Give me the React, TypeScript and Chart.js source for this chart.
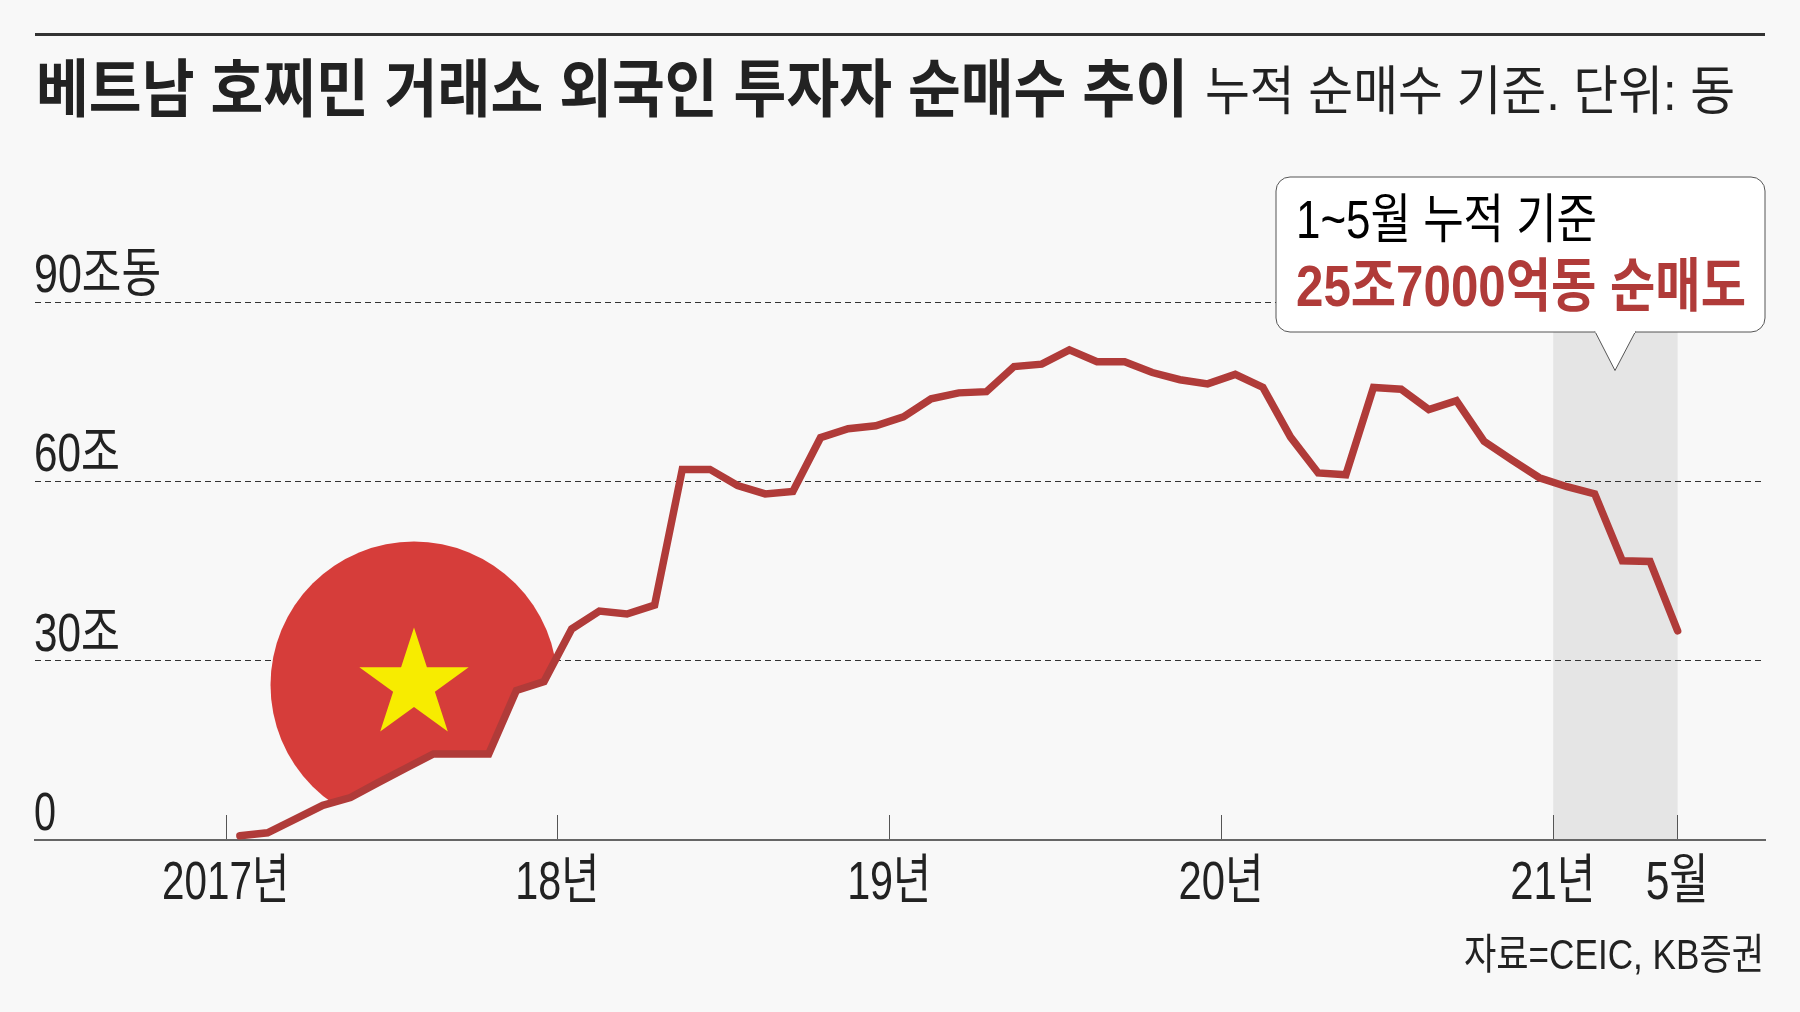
import React, { useEffect, useRef } from "react";
import { Chart, registerables } from "chart.js";

Chart.register(...registerables);

// Cumulative net buying by foreign investors, trillion dong, one value per month
const values2017 = [0.7, 1.2, 3.5, 5.8, 7.1, 9.6, 12.0, 14.4, 14.4, 14.4, 25.0, 26.5];
const values2018 = [35.3, 38.3, 37.8, 39.3, 62.0, 62.0, 59.3, 57.9, 58.3, 67.3, 68.8, 69.3];
const values2019 = [70.8, 73.8, 74.8, 75.0, 79.2, 79.6, 82.0, 80.0, 80.0, 78.2, 77.0, 76.3];
const values2020 = [77.9, 75.7, 67.4, 61.4, 61.1, 75.7, 75.4, 72.0, 73.5, 66.7, 63.6, 60.6];
const values2021 = [59.1, 57.9, 46.7, 46.6, 35.0];
const netBuying = [...values2017, ...values2018, ...values2019, ...values2020, ...values2021];

// x is the month index from Jan 2017; year ticks sit on the month boundaries
const xTickValues = [-0.5, 11.5, 23.5, 35.5, 47.5, 52];
const xTickLabels = ["2017년", "18년", "19년", "20년", "21년", "5월"];
const xTickWidths = [127, 84, 84, 85, 85, 63];
const yTickValues = [0, 30, 60, 90];
const yTickLabels = ["0", "30조", "60조", "90조동"];
const yTickWidths = [22, 86, 86, 127];
const bandRange = [47.5, 52];

const titleText = "베트남 호찌민 거래소 외국인 투자자 순매수 추이";
const subtitleText = "누적 순매수 기준. 단위: 동";
const sourceText = "자료=CEIC, KB증권";
const calloutLine1 = "1~5월 누적 기준";
const calloutLine2 = "25조7000억동 순매도";

const FONT = '"Liberation Sans", "Noto Sans CJK KR", sans-serif';
const INK = "#222222";
const LINE_RED = "#b03b39";

function drawText(
  ctx: CanvasRenderingContext2D,
  text: string,
  x: number,
  y: number,
  font: string,
  color: string,
  width: number,
  align: CanvasTextAlign = "left"
) {
  ctx.font = font;
  ctx.fillStyle = color;
  ctx.textAlign = align;
  ctx.textBaseline = "alphabetic";
  ctx.fillText(text, x, y, width);
}

const decorPlugin = {
  id: "decor",
  beforeDraw(chart: any) {
    const { ctx, scales } = chart;
    // grey band behind the grid for 2021
    const x0 = scales.x.getPixelForValue(bandRange[0]);
    const x1 = scales.x.getPixelForValue(bandRange[1]);
    ctx.save();
    ctx.fillStyle = "#e5e5e5";
    ctx.fillRect(x0, chart.chartArea.top, x1 - x0, chart.chartArea.height);
    ctx.restore();
  },
  beforeDatasetsDraw(chart: any) {
    const { ctx } = chart;
    const pts = chart.getDatasetMeta(0).data;
    const cx = 414;
    const cy = 685;

    // flag circle, cut off by the line
    ctx.save();
    ctx.beginPath();
    ctx.moveTo(0, pts[0].y);
    pts.slice(0, 17).forEach((p: any) => ctx.lineTo(p.x, p.y));
    ctx.lineTo(pts[16].x, 0);
    ctx.lineTo(0, 0);
    ctx.closePath();
    ctx.clip();
    ctx.fillStyle = "#d63d3a";
    ctx.beginPath();
    ctx.arc(cx, cy, 143.5, 0, Math.PI * 2);
    ctx.fill();
    ctx.restore();

    // star
    ctx.save();
    ctx.fillStyle = "#f7ec00";
    ctx.beginPath();
    for (let i = 0; i < 10; i++) {
      const r = i % 2 === 0 ? 57.5 : 57.5 * 0.382;
      const a = -Math.PI / 2 + (i * Math.PI) / 5;
      ctx.lineTo(cx + r * Math.cos(a), cy + r * Math.sin(a));
    }
    ctx.closePath();
    ctx.fill();
    ctx.restore();
  },
  afterDraw(chart: any) {
    const { ctx, scales } = chart;
    ctx.save();

    // rule on top
    ctx.fillStyle = "#333333";
    ctx.fillRect(35, 33, 1730, 3);

    drawText(ctx, titleText, 36, 111, `bold 63px ${FONT}`, INK, 1152);
    drawText(ctx, subtitleText, 1205, 110, `53px ${FONT}`, INK, 530);

    // axis labels
    yTickValues.forEach((v, i) => {
      drawText(ctx, yTickLabels[i], 34, scales.y.getPixelForValue(v) - 10, `54px ${FONT}`, INK, yTickWidths[i]);
    });
    xTickValues.forEach((v, i) => {
      drawText(ctx, xTickLabels[i], scales.x.getPixelForValue(v) - 0.5, 899, `54px ${FONT}`, INK, xTickWidths[i], "center");
    });

    drawText(ctx, sourceText, 1764, 969, `42px ${FONT}`, INK, 300, "right");

    // callout
    ctx.beginPath();
    ctx.roundRect(1276, 177, 489, 155, 14);
    ctx.fillStyle = "#ffffff";
    ctx.fill();
    ctx.strokeStyle = "#555555";
    ctx.lineWidth = 1;
    ctx.stroke();
    ctx.beginPath();
    ctx.moveTo(1595, 331.5);
    ctx.lineTo(1615, 370.5);
    ctx.lineTo(1635.5, 331.5);
    ctx.fill();
    ctx.stroke();
    ctx.fillStyle = "#ffffff";
    ctx.fillRect(1595.5, 330, 39.5, 3);

    drawText(ctx, calloutLine1, 1296, 238, `53px ${FONT}`, "#000000", 301);
    drawText(ctx, calloutLine2, 1296, 306, `bold 58px ${FONT}`, LINE_RED, 450);

    ctx.restore();
  },
};

export default function App() {
  const chartRef = useRef<HTMLCanvasElement>(null);

  useEffect(() => {
    if (!chartRef.current) return;

    const chart = new Chart(chartRef.current, {
      type: "line",
      data: {
        datasets: [
          {
            data: netBuying.map((y, x) => ({ x, y })),
            borderColor: LINE_RED,
            borderWidth: 7.5,
            borderCapStyle: "round",
            borderJoinStyle: "miter",
            pointRadius: 0,
            tension: 0,
            clip: false,
          },
        ],
      },
      options: {
        responsive: false,
        animation: false,
        layout: { padding: { left: 35, right: 35, top: 302, bottom: 0 } },
        plugins: { legend: { display: false }, tooltip: { enabled: false } },
        scales: {
          x: {
            type: "linear",
            min: -7.41,
            max: 55.16,
            afterBuildTicks: (scale: any) => {
              scale.ticks = xTickValues.map((value) => ({ value }));
            },
            afterFit: (scale: any) => {
              scale.height = 172;
            },
            ticks: { display: false },
            border: { display: true, color: "#666666", width: 2 },
            grid: {
              drawOnChartArea: false,
              drawTicks: true,
              tickLength: -25,
              tickColor: "#555555",
              tickWidth: 1,
            },
          },
          y: {
            min: 0,
            max: 90,
            afterBuildTicks: (scale: any) => {
              scale.ticks = yTickValues.map((value) => ({ value }));
            },
            afterFit: (scale: any) => {
              scale.width = 0;
            },
            ticks: { display: false },
            border: { display: false, dash: [6, 4] },
            grid: {
              drawTicks: false,
              lineWidth: 1,
              color: (c: any) => (c.tick.value === 0 ? "transparent" : "#333333"),
            },
          },
        },
      },
      plugins: [decorPlugin],
    });

    return () => chart.destroy();
  }, []);

  return (
    <div style={{ position: "absolute", left: 0, top: 0, width: 1800, height: 1012, background: "#f8f8f8" }}>
      <canvas ref={chartRef} width={1800} height={1012} style={{ display: "block" }} />
    </div>
  );
}
